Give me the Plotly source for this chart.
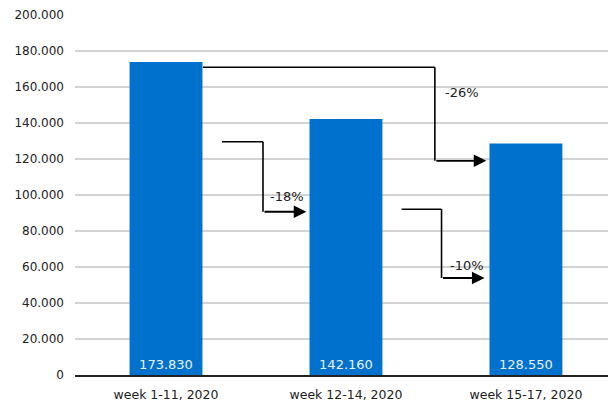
import plotly.graph_objects as go

categories = ["week 1-11, 2020", "week 12-14, 2020", "week 15-17, 2020"]
values = [173830, 142160, 128550]
y_ticks = [0, 20000, 40000, 60000, 80000, 100000, 120000, 140000, 160000, 180000, 200000]

# change arrows: (label, start_x, start_y, elbow_x, end_y, tip_x, label_x, label_y)
changes = [
    ("-26%", 0.205, 171000, 1.494, 119000, 1.78, 1.539, 157000),
    ("-18%", 0.311, 129600, 0.539, 90700, 0.78, 0.567, 99000),
    ("-10%", 1.309, 92100, 1.531, 53900, 1.77, 1.567, 60600),
]

pos = list(range(len(categories)))
FONT = "DejaVu Sans"

fig = go.Figure()
fig.add_trace(go.Bar(
    x=pos, y=values, width=0.405,
    marker=dict(color="#0071CC", line=dict(width=0)),
    texttemplate="%{y:,.0f}", textposition="inside", insidetextanchor="start",
    textangle=0, textfont=dict(family=FONT, size=13, color="#EAF1FA"),
    hoverinfo="skip",
))

for lab, sx, sy, ex, ey, tx, lx, ly in changes:
    fig.add_shape(type="line", xref="x", yref="y", x0=sx, y0=sy, x1=ex, y1=sy,
                  line=dict(color="black", width=1.6))
    fig.add_shape(type="line", xref="x", yref="y", x0=ex, y0=sy, x1=ex, y1=ey,
                  line=dict(color="black", width=1.6))
    fig.add_annotation(x=tx, y=ey, ax=ex, ay=ey, xref="x", yref="y", axref="x", ayref="y",
                       text="", showarrow=True, arrowhead=2, arrowsize=1.4, arrowwidth=1.8,
                       arrowcolor="black", standoff=0, startstandoff=0)
    fig.add_annotation(x=lx, y=ly, xref="x", yref="y", text=lab, showarrow=False,
                       xanchor="left", yanchor="middle",
                       font=dict(family=FONT, size=13, color="#222"))

fig.update_layout(
    width=608, height=401,
    margin=dict(l=75, r=0, t=15, b=26),
    paper_bgcolor="white", plot_bgcolor="white",
    separators=",.",
    showlegend=False,
    font=dict(family=FONT, size=12, color="#222"),
)
fig.update_xaxes(
    range=[-0.5056, 2.456], tickvals=pos, ticktext=categories,
    showgrid=False, zeroline=False, showline=True, linecolor="#222", linewidth=2,
    ticks="", tickfont=dict(family=FONT, size=12.5, color="#222"),
    ticklabelstandoff=7, automargin=False, fixedrange=True,
)
fig.update_yaxes(
    range=[0, 200000], tickvals=y_ticks, tickformat=",.0f",
    showgrid=True, gridcolor="#D3D3D3", gridwidth=1.5, zeroline=False,
    showline=False, ticks="", tickfont=dict(family=FONT, size=12, color="#222"),
    ticklabelstandoff=10, automargin=False, fixedrange=True,
)

fig.write_html("out.html", config={"displayModeBar": False},
               post_script="document.body.style.margin='0';document.body.style.overflow='hidden';")
